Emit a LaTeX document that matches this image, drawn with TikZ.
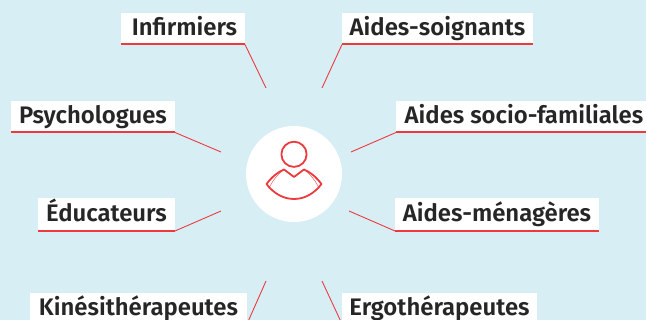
\documentclass[tikz,border=0pt]{standalone}
\usepackage{fontspec}
\setmainfont[UprightFont=* SemiBold]{Fira Sans}
\definecolor{bgblue}{HTML}{D7EFF4}
\definecolor{accentred}{HTML}{EE3A3F}
\definecolor{inktext}{HTML}{262626}
\tikzset{
  x=1pt,y=-1pt,
  labelbox/.style={fill=white,inner sep=0pt,outer sep=0pt,anchor=north west,text=inktext,font=\fontsize{23.9}{23.9}\selectfont,align=center},
  underline/.style={draw=accentred,line width=2pt},
  leader/.style={draw=accentred,line width=0.9pt},
  iconline/.style={draw=accentred,line width=1.8pt,line join=round},
  iconthin/.style={draw=accentred,line width=0.4pt}
}
\newcommand{\lab}[6]{%
  \node[labelbox,minimum width=#4pt-#2pt,minimum height=#5pt-#3pt,text height=18pt,text depth=4pt] (#1) at (#2,#3) {#6};
}
\newcommand{\conn}[2]{%
  \draw[underline] (#1.south west) -- (#1.south east);
  \draw[leader] (#1.south #2) -- (e#1);
}
\begin{document}
\begin{tikzpicture}
\useasboundingbox (0,0) rectangle (646,320);
\fill[bgblue] (0,0) rectangle (646,320);
\begin{scope}
\clip (0,0) rectangle (646,320);
\lab{inf}{121}{13}{245}{44.5}{\hspace*{3pt}Infirmiers}
\lab{aso}{342}{13}{533}{44.5}{Aides-soignants}
\lab{psy}{11}{101}{175}{132.5}{Psychologues}
\lab{asf}{396}{101}{652}{132.5}{Aides socio-familiales}
\lab{edu}{38}{198}{175}{231}{Éducateurs}
\lab{ame}{395}{198}{599}{231}{Aides-ménagères}
\lab{kin}{30}{293}{247}{324}{Kinésithérapeutes}
\lab{erg}{342}{293}{537}{324}{Ergothérapeutes}
\coordinate (einf) at (266,88);
\coordinate (easo) at (322,88);
\coordinate (epsy) at (221,152);
\coordinate (easf) at (351,152);
\coordinate (eedu) at (221,211);
\coordinate (eame) at (349,211);
\coordinate (ekin) at (266,281);
\coordinate (eerg) at (322,281);
\conn{inf}{east}
\conn{aso}{west}
\conn{psy}{east}
\conn{asf}{west}
\conn{edu}{east}
\conn{ame}{west}
\conn{kin}{east}
\conn{erg}{west}
\end{scope}
\node[circle,fill=white,minimum size=96pt,inner sep=0pt] (disc) at (294,174) {};
\draw[iconline] (294,154.3) circle[radius=12.6];
\draw[iconline] (266.5,184) .. controls (272,177) and (277,172.5) .. (284,169.5) -- (294,177) -- (304,169.5) .. controls (311,172.5) and (316,177) .. (321.5,184) .. controls (314,194) and (304,199) .. (294,199) .. controls (284,199) and (274,194) .. (266.5,184) -- cycle;
\draw[iconthin] (284,169.5) .. controls (278,174) and (272,181) .. (269,188.5);
\draw[iconthin] (304,169.5) .. controls (310,174) and (316,181) .. (319,188.5);
\end{tikzpicture}
\end{document}
